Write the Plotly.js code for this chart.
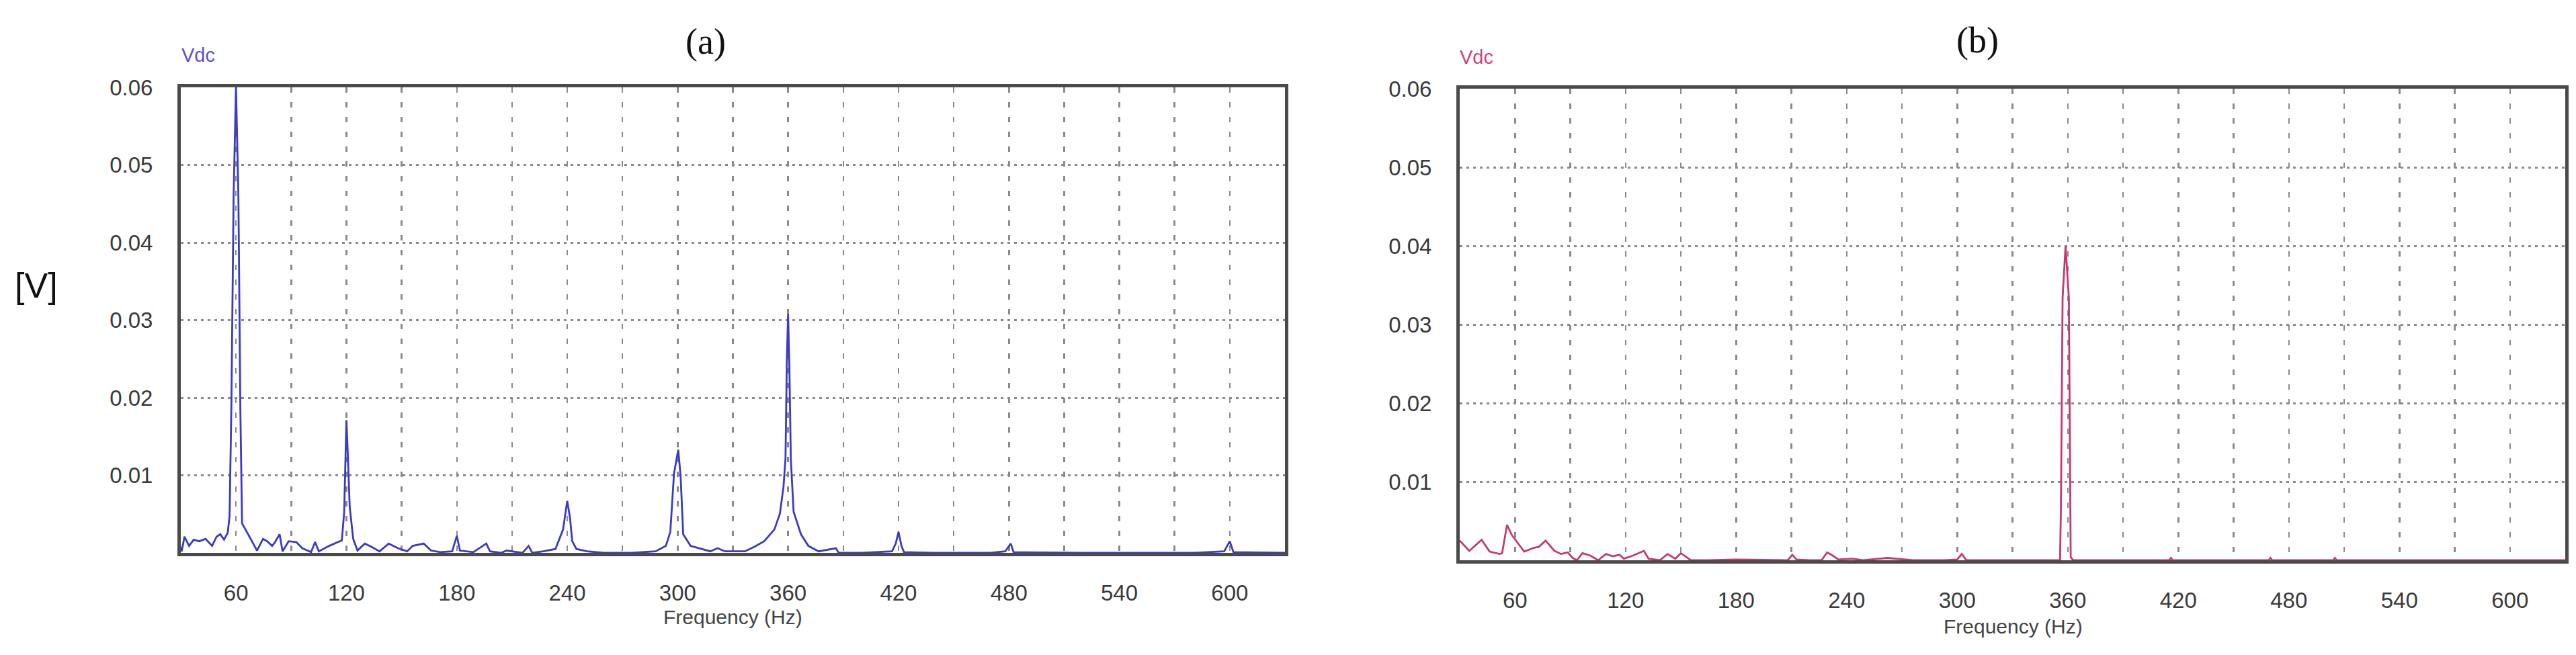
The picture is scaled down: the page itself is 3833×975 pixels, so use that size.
<!DOCTYPE html>
<html>
<head>
<meta charset="utf-8">
<script src="https://cdn.plot.ly/plotly-3.0.1.min.js"></script>
<style>
  html, body { margin: 0; padding: 0; background: #fff; }
  #chart { width: 3833px; height: 975px; }
</style>
</head>
<body>
<div id="chart"></div>
<script>
// spectrum (a): frequency in Hz, Vdc amplitude in V
const freqA = [28, 30.5, 32, 34.5, 37, 40, 43.5, 47, 49.5, 51.5, 53.5, 55.5, 56.5, 57.5, 58.7, 60, 61.3, 62.4, 63.3,
  65, 68, 71.4, 74.7, 77, 79.6, 81, 83.7, 85.3, 88.6, 92.7, 96, 100.8, 103, 105, 110.6, 115.5, 117.5,
  118.8, 119.5, 120, 120.7, 121.8, 123.7, 126, 130, 133.5, 138, 143, 148, 153, 156, 162, 166, 171,
  177.5, 180, 181.7, 189, 196, 198, 204, 207, 215.7, 219, 221, 227, 233.6, 237.7, 240, 241.5, 242.7,
  245, 250.7, 260, 275, 288, 293.6, 296, 298, 300.3, 301.6, 303, 307, 312, 317.7, 321.7, 325.7, 336.5,
  341.8, 347, 352.5, 355.5, 357.5, 358.6, 359.3, 360, 360.7, 361.5, 363, 367, 371, 376.6, 386, 387.5,
  400, 416.5, 418.5, 420, 421.6, 423, 440, 470, 478, 481, 482.5, 520, 580, 597, 600, 602, 630];
const vdcA = [0.0019, 0.0002, 0.0021, 0.0009, 0.0017, 0.0015, 0.0018, 0.0009, 0.0021, 0.0024, 0.0017, 0.0026, 0.0047, 0.019, 0.046, 0.060, 0.046, 0.018, 0.0038,
  0.0031, 0.0018, 0.0003, 0.0018, 0.0015, 0.0009, 0.0013, 0.0024, 0.0002, 0.0015, 0.0014, 0.0006, 0.0001, 0.0014, 0.0002, 0.0009, 0.0014, 0.0016,
  0.0053, 0.0131, 0.0171, 0.0131, 0.0059, 0.0018, 0.0003, 0.0012, 0.0008, 0.0002, 0.0012, 0.0006, 0.0002, 0.0009, 0.0012, 0.0003, 0.0001,
  0.0002, 0.0022, 0.0003, 0.0001, 0.0012, 0.0002, 0, 0.0003, 0, 0.0009, 0, 0.0002, 0.0005, 0.0030, 0.0067, 0.0045, 0.0015,
  0.0005, 0.0002, 0, 0, 0.0002, 0.0009, 0.0027, 0.0102, 0.0133, 0.0099, 0.0024, 0.0009, 0.0006, 0.0002, 0.0006, 0.0002, 0.0002,
  0.0008, 0.0015, 0.0030, 0.0050, 0.0085, 0.0122, 0.0245, 0.0308, 0.0240, 0.0120, 0.0053, 0.0024, 0.0009, 0.0002, 0.0006, 0,
  0, 0.0002, 0.0012, 0.0027, 0.0009, 0.0001, 0, 0, 0.0002, 0.0012, 0.0001, 0, 0, 0.0002, 0.0015, 0.0001, 0];

// spectrum (b)
const freqB = [30, 35.2, 41.9, 46.2, 51.7, 53, 55.7, 58.3, 61.5, 65, 70.5, 72.9, 76.6, 81.4, 85, 88.7, 91.2, 93.6,
  96.6, 100.9, 105.1, 109.4, 113, 116.7, 119.1, 124, 130, 132.5, 138.6, 142.8, 147, 150, 155.5, 165, 180,
  200, 208, 210.5, 212.8, 219.6, 226.4, 229.4, 231.7, 235.5, 243, 249, 262, 276, 293, 300, 302.5, 305,
  355.8, 356.3, 357.2, 358.8, 360.6, 361.6, 363, 415, 416, 417, 469, 470, 471, 504, 505, 506, 630];
const vdcB = [0.0025, 0.0012, 0.0026, 0.0011, 0.0008, 0.0009, 0.0045, 0.0032, 0.0022, 0.0011, 0.0016, 0.0017, 0.0025, 0.0012, 0.0008, 0.0010, 0.0003, 0,
  0.0009, 0.0006, 0, 0.0008, 0.0005, 0.0007, 0.0002, 0.0006, 0.0012, 0.0002, 0, 0.0008, 0.0002, 0.0009, 0, 0, 0.0001,
  0, 0, 0.0007, 0.0001, 0, 0, 0.0010, 0.0007, 0.0001, 0.0002, 0, 0.0003, 0, 0, 0.0001, 0.0008, 0,
  0, 0.0068, 0.0334, 0.0400, 0.0334, 0.0004, 0, 0, 0.0003, 0, 0, 0.0003, 0, 0, 0.0003, 0, 0];

const xTickLabels = [60, 120, 180, 240, 300, 360, 420, 480, 540, 600];
const yTickVals = [0.01, 0.02, 0.03, 0.04, 0.05, 0.06];
const yTickText = ['0.01', '0.02', '0.03', '0.04', '0.05', '0.06'];

// grid every 30 Hz, label every 60 Hz
let xGridVals = [];
let xGridText = [];
for (let i = 0; i < xTickLabels.length; i++) {
	xGridVals.push(xTickLabels[i]);
	xGridText.push(String(xTickLabels[i]));
	if (i < xTickLabels.length - 1) {
		xGridVals.push((xTickLabels[i] + xTickLabels[i+1]) / 2);
		xGridText.push('');
	}
}

const W = 3833, H = 975;
const tickFont = {family: 'Liberation Sans, Arial, sans-serif', size: 33, color: '#3a3a3a'};

function xAxis(domain, anchor) {
	return {
		domain: domain, anchor: anchor, range: [30, 630],
		tickmode: 'array', tickvals: xGridVals, ticktext: xGridText,
		showgrid: true, gridcolor: '#8a8a8a', gridwidth: 2.5, griddash: '8px,14px',
		showline: true, mirror: true, linecolor: '#4a4a4a', linewidth: 5,
		ticks: '', tickfont: tickFont, ticklabelstandoff: 26, zeroline: false
	};
}
function yAxis(domain, anchor) {
	return {
		domain: domain, anchor: anchor, range: [0, 0.06],
		tickmode: 'array', tickvals: yTickVals, ticktext: yTickText,
		showgrid: true, gridcolor: '#8a8a8a', gridwidth: 3, griddash: '4px,6px',
		showline: true, mirror: true, linecolor: '#4a4a4a', linewidth: 5,
		ticks: '', tickfont: tickFont, ticklabelstandoff: 30, zeroline: false
	};
}

function note(text, px, py, size, color, family) {
	return {
		text: text, xref: 'paper', yref: 'paper', x: px / W, y: 1 - py / H,
		xanchor: 'center', yanchor: 'middle', showarrow: false,
		font: {size: size, color: color, family: family || 'Liberation Sans, Arial, sans-serif'}
	};
}

let traceA = {x: freqA, y: vdcA, xaxis: 'x', yaxis: 'y', type: 'scatter', mode: 'lines',
	line: {color: '#3b3bc6', width: 2.8}, hoverinfo: 'skip'};
let traceB = {x: freqB, y: vdcB, xaxis: 'x2', yaxis: 'y2', type: 'scatter', mode: 'lines',
	line: {color: '#c23a72', width: 2.8}, hoverinfo: 'skip'};

let layout = {
	width: W, height: H,
	margin: {l: 0, r: 0, t: 0, b: 0},
	paper_bgcolor: '#fff', plot_bgcolor: '#fff',
	showlegend: false,
	xaxis: xAxis([269 / W, 1912 / W], 'y'),
	yaxis: yAxis([1 - 823 / H, 1 - 130 / H], 'x'),
	xaxis2: xAxis([2172 / W, 3817 / W], 'y2'),
	yaxis2: yAxis([1 - 834 / H, 1 - 132 / H], 'x2'),
	annotations: [
		note('(a)', 1050, 62, 54, '#111', 'Liberation Serif, serif'),
		note('(b)', 2942, 60, 54, '#111', 'Liberation Serif, serif'),
		note('Vdc', 295, 82, 29, '#5a50d2'),
		note('Vdc', 2197, 85, 29, '#d2427c'),
		note('[V]', 54, 425, 52, '#111'),
		note('Frequency (Hz)', 1090, 918, 30, '#444'),
		note('Frequency (Hz)', 2995, 932, 30, '#444')
	]
};

Plotly.newPlot('chart', [traceA, traceB], layout, {staticPlot: true, displayModeBar: false});
</script>
</body>
</html>
